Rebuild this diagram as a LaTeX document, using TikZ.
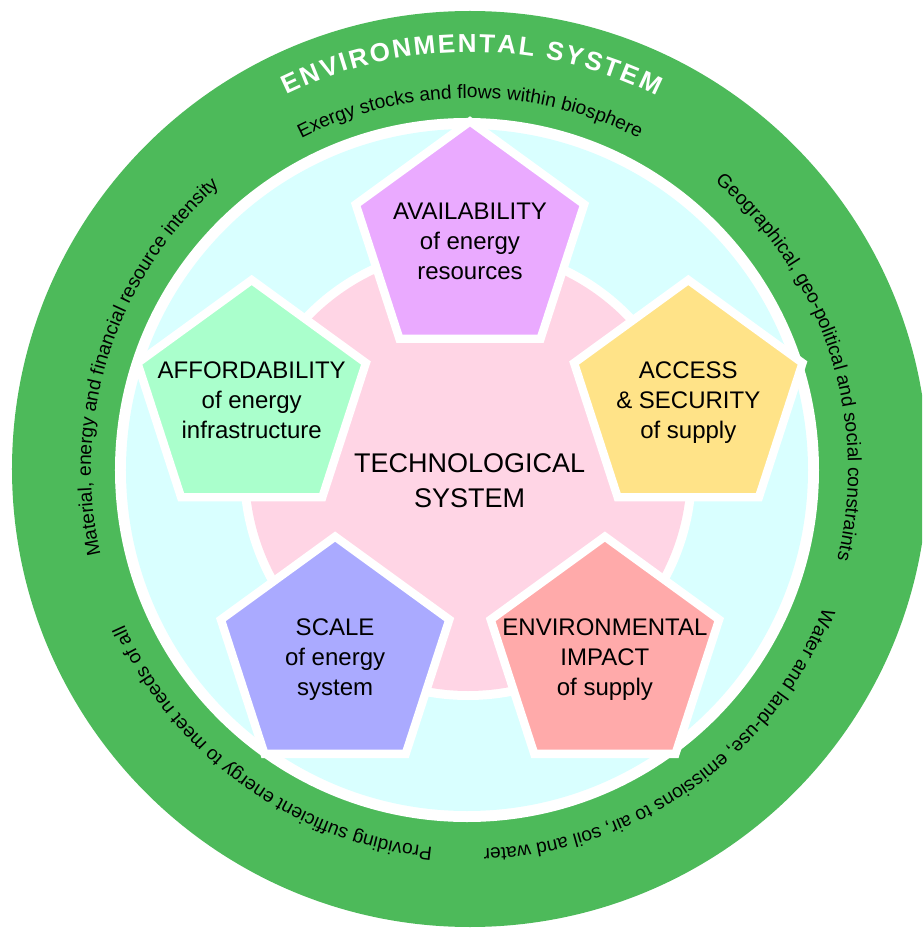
\documentclass[tikz,border=0pt]{standalone}
\usepackage{fontspec}
\setmainfont{Liberation Sans}
\usetikzlibrary{shapes.geometric,decorations.text}
\definecolor{envgreen}{HTML}{4DBA5A}
\definecolor{cyanbg}{HTML}{D9FFFF}
\definecolor{techpink}{HTML}{FFD5E5}
\definecolor{pavail}{HTML}{EAAAFF}
\definecolor{pafford}{HTML}{AAFFCC}
\definecolor{paccess}{HTML}{FFE388}
\definecolor{pscale}{HTML}{AAAAFF}
\definecolor{penv}{HTML}{FFAAAA}
\begin{document}
\begin{tikzpicture}[x=1pt,y=1pt,
  pent/.style={regular polygon, regular polygon sides=5, minimum size=240.2pt,
    inner sep=0pt, outer sep=0pt, draw=white, line width=8.3pt},
  plabel/.style={align=center, font=\fontsize{24}{30}\selectfont, inner sep=0pt},
  arctext/.style={decorate, decoration={text along path, text align=center,
    text={|\fontsize{19.2}{19.2}\selectfont|#1}}}
]
\fill[white] (-470,-459) rectangle (452,470);
\clip (-470,-459) rectangle (452,470);
% rings
\fill[envgreen] (0,1) circle[radius=458];
\fill[white] (-3,0) circle[radius=352];
\fill[cyanbg] (-3,0) circle[radius=341];
\fill[white] (-2,-2) circle[radius=228];
\fill[techpink] (-2,-2) circle[radius=219];
% pentagons
\node[pent, fill=pavail]  (avail)  at (0,228.5) {};
\node[pent, fill=pafford] (afford) at (-218.3,69.9) {};
\node[pent, fill=paccess] (access) at (218.3,69.9) {};
\node[pent, fill=pscale]  (scale)  at (-134.9,-186.7) {};
\node[pent, fill=penv]    (envimp) at (134.9,-186.7) {};
% labels
\node[plabel] (availtxt)  at (avail.center) {AVAILABILITY\\of energy\\resources};
\node[plabel] (affordtxt) at (afford.center) {AFFORDABILITY\\of energy\\infrastructure};
\node[plabel] (accesstxt) at ([yshift=-2.5pt]access.center) {ACCESS\\\& SECURITY\\of supply};
\node[plabel] (scaletxt)  at ([yshift=-2.5pt]scale.center) {SCALE\\of energy\\system};
\node[plabel] (envtxt)    at ([yshift=-2.5pt]envimp.center) {ENVIRONMENTAL\\IMPACT\\of supply};
\node[align=center, inner sep=0pt, font=\fontsize{27}{35}\selectfont] (tech) at (-0.3,-11.2) {TECHNOLOGICAL\\SYSTEM};
% curved texts
\path[decorate, decoration={text along path, text align=fit to path, text color=white,
  text={|\bfseries\fontsize{26}{26}\selectfont|ENVIRONMENTAL SYSTEM}}]
  (116:418) arc[start angle=116, end angle=63.5, radius=418];
\path[arctext={Exergy stocks and flows within biosphere}]
  (125:372) arc[start angle=125, end angle=55, radius=372];
\path[arctext={Geographical, geo-political and social constraints}]
  (58:378) arc[start angle=58, end angle=-22, radius=378];
\path[arctext={Water and land-use, emissions to air, soil and water}]
  (-14.6:379) arc[start angle=-14.6, end angle=-94.6, radius=379];
\path[arctext={Providing sufficient energy to meet needs of all}]
  (-85.75:379) arc[start angle=-85.75, end angle=-165.75, radius=379];
\path[arctext={Material, energy and financial resource intensity}]
  (202.2:379) arc[start angle=202.2, end angle=122.2, radius=379];
\end{tikzpicture}
\end{document}
